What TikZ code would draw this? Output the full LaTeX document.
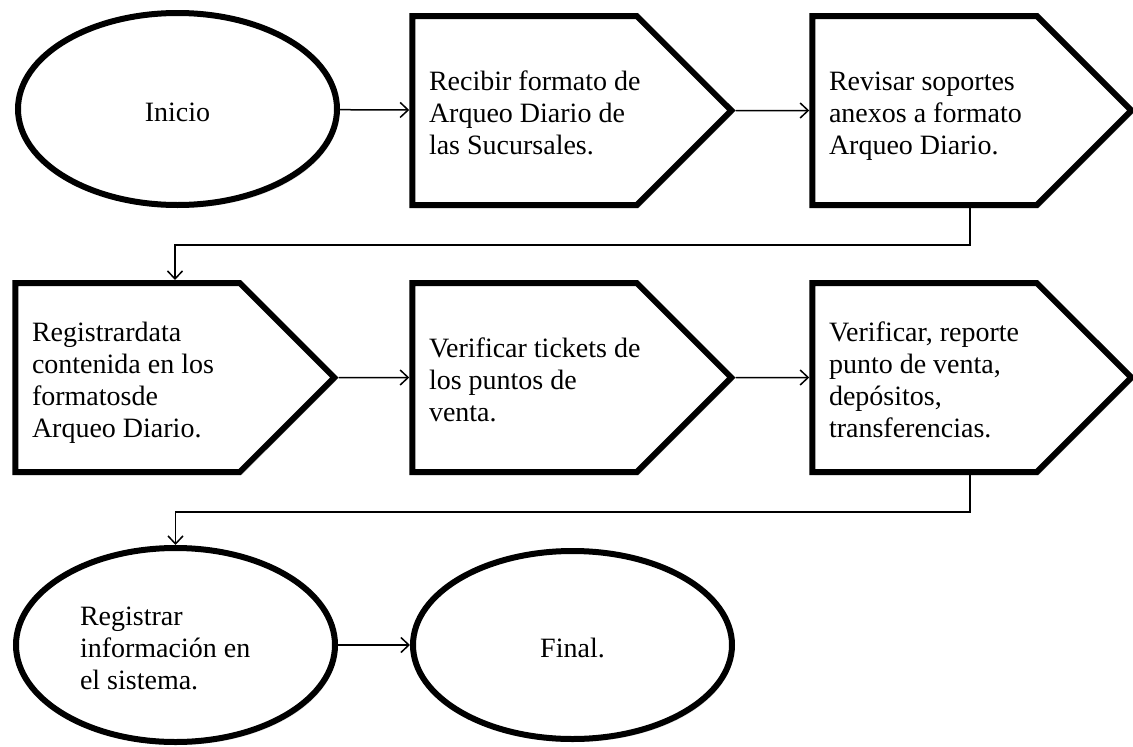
\documentclass[tikz,border=0pt]{standalone}
\usepackage{fontspec}
\setmainfont{Liberation Serif}
\usetikzlibrary{shapes.geometric, shapes.symbols, shadows, arrows.meta}
\newcommand{\caja}[2][191pt]{\raisebox{-6pt}[\height][\depth]{\makebox[#1][l]{\begin{tabular}{@{}l@{}}#2\end{tabular}}}}
\newcommand{\centrado}[1]{\raisebox{-6pt}[\height][\depth]{\begin{tabular}{@{}c@{}}#1\end{tabular}}}
\tikzset{
  paso/.style={signal, signal to=east, signal from=nowhere, signal pointer angle=90,
    draw, line width=6pt, fill=white, minimum width=319pt, minimum height=189pt,
    inner xsep=16pt, inner ysep=0pt,
    drop shadow={shadow xshift=2pt, shadow yshift=-3pt, opacity=0.25}},
  borde/.style={ellipse, draw, line width=6pt, fill=white,
    minimum width=319pt, minimum height=192pt, inner sep=0pt,
    drop shadow={shadow xshift=2pt, shadow yshift=-3pt, opacity=0.25}},
  flecha/.style={line width=1.5pt, -{Straight Barb[length=8pt, width=15pt, line width=1.5pt]}}
}
\begin{document}
\begin{tikzpicture}[x=1pt, y=-1pt, font=\fontsize{28}{32}\selectfont]
  \useasboundingbox (0,0) rectangle (1133,747);
  % primera fila
  \node[borde] (inicio) at (177.5,109) {\centrado{Inicio}};
  \node[paso] (recibir) at (524.5,110.5) {\caja{Recibir formato de\\Arqueo Diario de\\las Sucursales.}};
  \node[paso] (revisar) at (924.5,110.5) {\caja{Revisar soportes\\anexos a formato\\Arqueo Diario.}};
  % segunda fila
  \node[paso] (registrar) at (127.5,377.5) {\caja{Registrardata\\contenida en los\\formatosde\\Arqueo Diario.}};
  \node[paso] (tickets) at (524.5,377.5) {\caja{Verificar tickets de\\los puntos de\\venta.}};
  \node[paso] (reporte) at (924.5,377.5) {\caja{Verificar, reporte\\punto de venta,\\dep\'ositos,\\transferencias.}};
  % tercera fila
  \node[borde, minimum height=194pt] (sistema) at (175.5,645) {\caja{Registrar\\informaci\'on en\\el sistema.}};
  \node[borde, minimum height=188pt] (final) at (572.5,645) {\centrado{Final.}};
  % conectores
  \draw[flecha] (inicio) -- (recibir);
  \draw[flecha] (recibir) -- (revisar);
  \draw[flecha] ([xshift=45.5pt]revisar.south) -- ++(0,37) -| ([xshift=47.5pt]registrar.north);
  \draw[flecha] (registrar) -- (tickets);
  \draw[flecha] (tickets) -- (reporte);
  \draw[flecha] ([xshift=45.5pt]reporte.south) -- ++(0,37) -| (sistema.north);
  \draw[flecha] (sistema) -- (final);
\end{tikzpicture}
\end{document}
